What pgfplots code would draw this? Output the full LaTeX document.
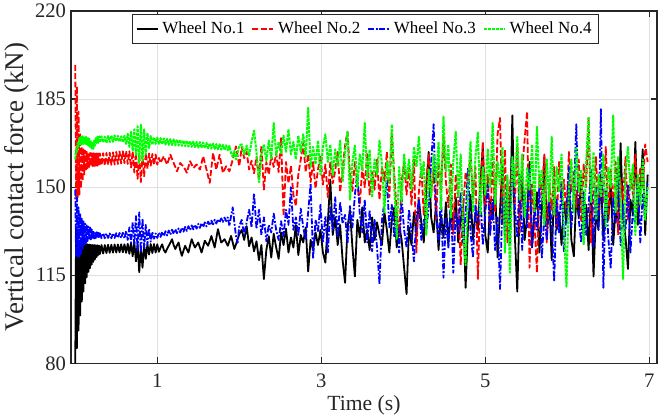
\documentclass[border=0pt]{standalone}
\usepackage{pgfplots}
\pgfplotsset{compat=1.18}
\usepackage{pgfplotstable}
\usepackage{fontspec}
\setmainfont{Liberation Serif}
\definecolor{axgray}{RGB}{38,38,38}
\definecolor{gridgray}{RGB}{223,223,223}
\definecolor{mgreen}{RGB}{0,255,0}

\pgfplotstableread{
t w1 w2 w3 w4
0.00 80 198.6 149 161
0.01 134 146 122.3 165
0.02 86 190 146 164
0.03 129 146 122.3 167.6
0.04 93 180 142 166
0.05 128 147 122.3 169.5
0.06 99 171 139.6 167
0.07 127.8 149.5 123.5 170
0.08 104.5 166 137.5 167
0.09 127.6 152.5 125.5 170.2
0.10 108.5 165 136.8 167.2
0.11 127.5 155 126.8 170
0.12 111.8 164.5 135.5 167.2
0.13 127.4 156.5 127.8 170
0.14 114.2 164 134.8 167
0.15 127.3 157.5 128.5 169.8
0.16 116.3 163.8 134.3 166.5
0.17 127.2 158 128.9 169.5
0.18 117.8 163.6 134 166
0.19 127.1 158.3 129.2 168.5
0.20 119.2 163.5 133.3 165
0.21 127 158.3 129.5 167.5
0.22 120.3 163.5 132.8 165.2
0.23 127 158.4 129.6 168.5
0.24 121.3 163.4 132.4 166.5
0.25 126.9 158.5 129.7 169.5
0.26 122.2 163.4 132.1 167.5
0.27 126.9 158.5 129.7 170
0.28 123 163.4 131.9 167.6
0.29 126.8 158.6 129.7 170.2
0.30 123.4 163.4 131.7 167.8
0.32 127.0 158.6 129.7 170.2
0.34 123.6 163.5 131.7 167.8
0.36 127.0 158.6 129.7 170.0
0.38 123.8 163.6 131.6 167.6
0.40 127.1 158.8 129.8 170.3
0.42 123.9 163.7 131.6 167.9
0.44 127.1 158.9 129.7 170.5
0.46 124.0 163.8 131.7 168.0
0.48 127.2 159.0 129.8 170.6
0.50 124.0 164.0 131.7 168.2
0.52 127.2 159.2 129.8 170.4
0.54 124.1 164.2 131.8 168.0
0.56 127.3 159.4 129.8 170.2
0.58 124.1 164.3 131.9 167.8
0.60 127.3 159.5 129.6 170.4
0.62 123.9 164.4 132.5 167.2
0.64 127.5 159.2 129.0 171.2
0.66 123.5 164.3 134.0 166.0
0.68 127.9 157.8 128.0 172.0
0.70 122.5 164.2 136.0 164.5
0.72 128.2 155.8 127.0 173.0
0.74 120.5 163.8 138.5 162.5
0.76 127.5 153.3 125.0 174.2
0.78 116.2 163.0 140.0 159.5
0.80 126.0 152.0 124.0 174.8
0.82 118.0 162.8 137.5 160.5
0.84 126.8 154.3 125.8 173.0
0.86 121.5 163.6 135.0 163.0
0.88 127.3 157.3 127.2 171.5
0.90 123.2 163.4 133.5 165.5
0.92 127.4 158.5 128.3 170.3
0.94 123.8 163.2 132.2 166.8
0.96 127.4 158.7 129.5 169.8
0.98 124.0 163.0 131.6 167.2
1.00 127.3 158.9 129.8 169.7
1.02 124.3 161.6 131.9 167.2
1.04 126.0 159.6 130.2 169.5
1.06 127.3 161.0 132.2 167.0
1.08 125.0 162.3 130.5 169.4
1.10 124.0 160.5 132.5 166.9
1.12 125.5 159.0 130.8 169.2
1.14 126.7 161.0 132.8 166.8
1.16 128.0 162.9 131.1 169.1
1.18 129.3 161.2 133.1 166.7
1.20 127.0 159.6 131.4 169.0
1.22 125.4 158.0 133.3 166.6
1.24 126.8 156.3 131.7 168.9
1.26 128.0 158.0 133.6 166.5
1.28 125.0 159.6 132.0 168.8
1.30 122.7 158.8 133.9 166.4
1.32 124.8 158.3 132.3 168.6
1.34 126.7 157.0 134.2 166.3
1.36 125.3 155.7 132.6 168.5
1.38 124.0 158.0 134.5 166.1
1.40 126.8 160.3 132.9 168.3
1.42 129.3 159.0 134.8 166.0
1.44 127.5 157.6 133.2 168.1
1.46 126.0 158.3 135.1 165.9
1.48 127.0 159.0 133.5 168.0
1.50 128.0 158.0 135.4 165.7
1.52 126.0 157.0 133.8 167.9
1.54 124.0 159.6 135.7 165.6
1.56 126.3 162.3 134.1 167.7
1.58 128.7 159.6 136.0 165.5
1.60 127.7 157.0 134.4 167.6
1.62 126.7 154.3 136.3 165.4
1.64 128.6 151.7 134.8 167.4
1.66 130.6 157.6 136.7 165.3
1.68 128.3 163.6 135.2 167.3
1.70 126.0 160.3 137.0 165.2
1.72 129.6 157.0 135.5 167.1
1.74 133.3 160.0 137.3 165.0
1.76 130.6 162.9 135.9 167.0
1.78 128.0 159.3 137.6 164.9
1.80 128.6 155.7 136.2 166.8
1.82 129.3 157.0 137.9 164.8
1.84 128.0 158.3 136.5 166.6
1.86 126.7 157.3 138.0 164.7
1.88 128.6 156.3 134.6 166.4
1.90 130.6 158.6 138.5 163.5
1.92 128.0 160.9 142.0 162.0
1.94 125.4 163.5 136.0 164.5
1.96 127.3 166.2 130.5 161.0
1.98 129.3 162.3 127.9 163.8
2.00 131.3 158.3 134.6 166.5
2.03 133.0 166.0 137.0 167.0
2.06 129.0 161.5 131.0 163.0
2.09 134.5 164.0 136.0 166.5
2.12 126.5 157.0 141.0 162.5
2.15 130.0 160.5 134.0 168.0
2.18 124.5 155.5 147.5 172.5
2.21 128.5 162.0 133.5 164.0
2.24 121.0 153.0 141.0 152.0
2.27 127.0 166.5 131.0 163.0
2.30 113.5 149.0 138.0 167.0
2.33 125.0 160.0 128.5 160.5
2.36 130.5 155.0 135.0 168.5
2.39 122.0 162.5 132.0 161.0
2.42 131.5 158.0 139.5 175.5
2.45 126.0 163.5 133.0 162.5
2.48 121.5 156.0 129.0 168.0
2.51 132.0 169.5 136.5 163.5
2.54 127.0 138.5 130.5 170.5
2.57 133.5 160.0 141.0 164.0
2.60 124.0 151.5 135.0 173.0
2.63 130.0 158.5 150.0 163.0
2.66 126.0 147.0 133.0 168.0
2.69 135.0 142.5 138.0 161.0
2.72 123.0 155.0 131.0 170.5
2.75 131.0 161.0 141.5 164.0
2.78 128.0 167.5 134.0 171.0
2.81 134.0 156.0 129.0 162.0
2.84 116.5 163.0 140.0 181.5
2.87 129.0 152.0 151.5 158.0
2.90 125.0 160.0 121.5 166.0
2.93 132.0 149.5 137.0 159.0
2.96 127.0 157.0 132.5 168.5
2.99 133.0 162.5 143.0 155.0
3.02 124.0 151.0 128.0 166.0
3.05 120.0 159.0 138.5 171.0
3.08 136.0 146.0 124.0 160.0
3.11 153.0 160.0 142.0 167.0
3.14 131.0 151.5 133.0 154.5
3.17 138.0 156.5 146.0 165.0
3.20 127.0 164.0 130.0 158.0
3.23 135.0 148.0 144.0 168.5
3.26 121.0 157.0 135.5 152.0
3.29 112.0 166.5 139.0 164.0
3.32 134.0 172.0 127.5 172.0
3.35 141.0 155.0 142.5 145.0
3.38 126.0 148.5 134.0 160.0
3.41 114.5 160.0 147.0 166.5
3.44 137.0 151.0 155.5 150.0
3.47 130.0 143.0 139.0 163.0
3.50 142.0 158.0 132.0 157.0
3.53 128.0 150.0 145.0 175.5
3.56 133.0 163.5 128.0 153.0
3.59 125.0 147.0 141.0 165.0
3.62 138.0 156.0 124.5 146.0
3.65 129.0 149.0 137.0 161.0
3.68 136.0 161.0 126.0 155.0
3.71 131.0 145.0 111.5 168.5
3.74 127.0 158.0 137.0 159.0
3.77 140.0 152.5 144.0 140.0
3.80 133.0 164.0 153.0 160.0
3.83 124.0 146.0 134.0 152.0
3.86 137.0 171.5 143.0 175.0
3.89 142.0 155.0 130.0 150.5
3.92 126.0 140.0 139.0 129.5
3.95 135.0 130.5 124.0 158.0
3.98 129.0 152.0 146.0 144.0
4.01 118.0 160.0 133.0 163.0
4.04 107.5 147.0 126.0 153.0
4.07 134.0 157.5 141.0 161.0
4.10 127.0 143.0 132.0 149.0
4.13 140.0 161.0 120.5 166.0
4.16 131.0 124.0 138.0 158.0
4.19 145.0 148.0 145.0 170.0
4.22 136.0 158.0 129.0 154.0
4.25 128.0 139.0 137.0 160.0
4.28 149.0 152.0 133.0 131.0
4.31 164.0 163.0 142.0 157.0
4.34 138.0 147.0 160.0 146.0
4.37 132.0 157.0 175.0 163.0
4.40 143.0 137.0 140.0 152.0
4.43 125.0 160.0 128.0 168.0
4.46 139.0 149.0 147.0 141.0
4.49 130.0 170.5 114.0 178.0
4.52 144.0 152.0 138.0 156.0
4.55 127.0 142.0 126.0 167.0
4.58 141.0 159.0 146.0 138.0
4.61 133.0 131.0 116.0 160.0
4.64 146.0 155.0 140.0 172.0
4.67 128.0 145.0 132.0 146.0
4.70 137.0 119.0 148.0 163.0
4.73 143.0 141.0 128.0 133.0
4.76 110.0 156.0 139.0 119.0
4.79 135.0 150.0 158.0 151.0
4.82 147.0 163.0 132.0 168.0
4.85 129.0 146.0 122.0 140.0
4.88 140.0 158.0 143.0 162.0
4.91 133.0 113.5 136.0 172.0
4.94 152.0 148.0 147.0 139.0
4.97 166.0 168.0 127.0 158.0
5.00 131.0 142.0 140.0 147.0
5.03 124.0 155.0 151.0 165.0
5.06 145.0 134.0 131.0 150.0
5.09 137.0 162.0 145.0 175.5
5.12 150.0 140.0 125.0 143.0
5.15 122.0 171.0 138.0 160.0
5.18 141.0 177.5 109.5 151.0
5.21 159.0 135.0 146.0 166.0
5.24 130.0 165.0 134.0 124.0
5.27 148.0 128.0 152.0 155.0
5.30 135.0 150.0 127.0 116.0
5.33 178.5 160.0 161.0 162.0
5.36 131.0 143.0 142.0 150.0
5.39 108.5 167.0 130.0 170.0
5.42 143.0 132.0 155.0 145.0
5.45 155.0 157.0 125.0 163.0
5.48 129.0 169.0 148.0 138.0
5.51 138.0 180.0 134.0 158.0
5.54 160.0 118.0 158.0 149.0
5.57 126.0 151.0 126.0 167.0
5.60 139.0 136.0 141.0 140.0
5.63 148.0 116.0 133.0 174.0
5.66 124.0 154.0 150.0 150.0
5.69 141.0 147.0 122.0 157.0
5.72 162.0 163.0 139.0 135.0
5.75 135.0 128.0 129.0 161.0
5.78 146.0 151.0 144.0 144.0
5.81 121.0 141.0 136.0 170.0
5.84 150.0 158.0 112.5 139.0
5.87 133.0 134.0 145.0 158.0
5.90 140.0 160.0 132.0 148.0
5.93 127.0 145.0 152.0 163.0
5.96 144.0 153.0 124.0 133.0
5.99 136.0 139.0 140.0 110.5
6.02 151.0 164.0 158.0 149.0
6.05 129.0 148.0 134.0 161.0
6.08 122.5 156.0 147.0 140.0
6.11 147.0 142.0 175.0 166.0
6.14 138.0 161.0 137.0 148.0
6.17 154.0 136.0 128.0 157.0
6.20 131.0 159.0 148.0 127.0
6.23 143.0 150.0 131.0 160.0
6.26 125.0 177.5 143.0 178.0
6.29 148.0 128.0 157.0 144.0
6.32 114.5 146.0 126.0 164.0
6.35 140.0 162.0 150.0 137.0
6.38 133.0 139.0 133.0 155.0
6.41 155.0 154.0 181.0 146.0
6.44 129.0 144.0 110.0 163.0
6.47 145.0 166.0 149.0 134.0
6.50 137.0 137.0 130.0 158.0
6.53 152.0 157.0 117.5 150.0
6.56 127.0 142.0 146.0 178.5
6.59 142.0 160.0 136.0 140.0
6.62 134.0 131.0 158.0 162.0
6.65 167.5 153.0 127.0 145.0
6.68 138.0 145.0 143.0 113.5
6.71 130.0 162.0 133.0 156.0
6.74 117.5 137.0 151.0 166.0
6.77 145.0 155.0 124.0 149.0
6.80 139.0 147.0 141.0 159.0
6.83 168.0 163.0 135.0 131.0
6.86 135.0 141.0 153.0 155.0
6.89 148.0 158.0 128.0 143.0
6.92 165.0 150.0 147.0 161.0
6.95 131.0 167.0 139.0 137.0
6.98 155.0 160.0 152.0 150.0
}\wheeldata

\begin{document}
\begin{tikzpicture}
\begin{axis}[
  scale only axis,
  width=293pt, height=176.15pt,
  xmin=-0.052, xmax=7.094, ymin=80, ymax=220,
  xtick={1,3,5,7}, ytick={80,115,150,185,220},
  grid=major,
  major grid style={gridgray, line width=0.5pt},
  axis line style={axgray, line width=0.6pt},
  tick style={axgray, line width=0.6pt},
  tick align=inside,
  major tick length=3pt,
  xtick pos=both, ytick pos=both,
  /pgf/number format/assume math mode=true,
  ticklabel style={font=\fontsize{10.3}{12}\selectfont, text=axgray},
  xticklabel style={yshift=-2pt},
  yticklabel style={xshift=1pt},
  label style={text=axgray},
  xlabel={Time (s)},
  ylabel={Vertical contact force (kN)},
  xlabel style={font=\fontsize{10.8}{12}\selectfont, yshift=3pt},
  ylabel style={font=\fontsize{13.5}{15}\selectfont, yshift=-4pt},
  legend columns=4,
  legend style={at={(0.503,0.992)}, anchor=north, draw=axgray, line width=0.5pt,
    fill=white, font=\fontsize{8.5}{10}\selectfont, inner sep=1.5pt,
    /tikz/every even column/.append style={column sep=1.5pt}},
  legend image code/.code={\draw[#1, line width=0.8pt] (0pt,0pt) -- (10.5pt,0pt);},
  every axis plot/.append style={line width=0.9pt, line join=round},
]
\coordinate (sw) at (rel axis cs:0,0);
\coordinate (ne) at (rel axis cs:1,1);
\addplot[black] table[x=t, y=w1] {\wheeldata};
\addplot[red, dash pattern=on 3pt off 1.2pt] table[x=t, y=w2] {\wheeldata};
\addplot[blue, dash pattern=on 3pt off 0.9pt on 0.9pt off 0.9pt] table[x=t, y=w3] {\wheeldata};
\addplot[mgreen, line width=1pt, dash pattern=on 1.5pt off 0.5pt] table[x=t, y=w4] {\wheeldata};
\legend{Wheel No.1, Wheel No.2, Wheel No.3, Wheel No.4}
\end{axis}
\pgfresetboundingbox
\path[use as bounding box] ([shift={(-35.5pt,-28.35pt)}]sw) rectangle ([shift={(3.5pt,5.5pt)}]ne);
\end{tikzpicture}
\end{document}
